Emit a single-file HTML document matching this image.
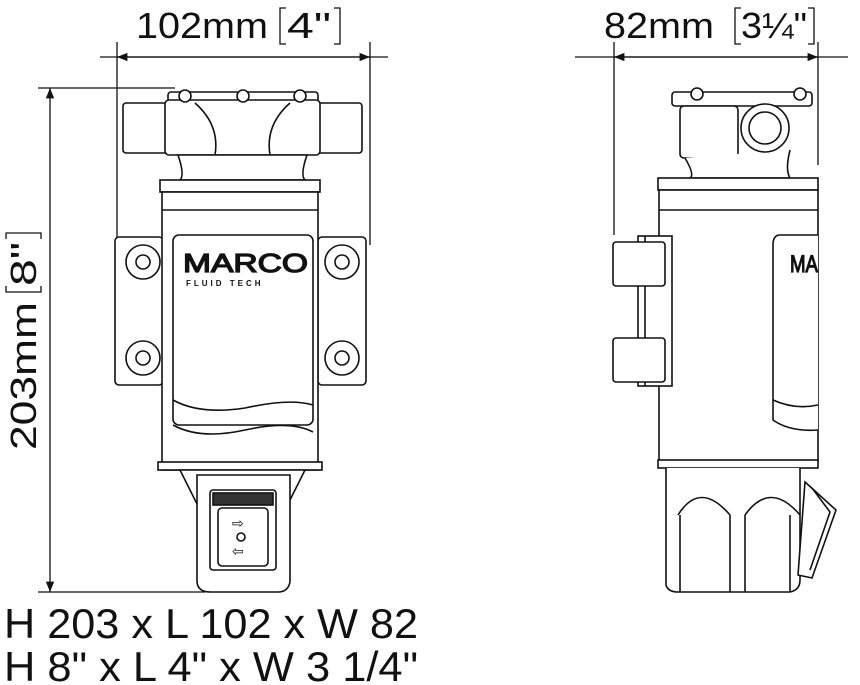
<!DOCTYPE html>
<html><head><style>
body{margin:0;background:#fff;}
svg{display:block;}
text{font-family:"Liberation Sans",sans-serif;fill:#111;}
</style></head><body>
<svg width="860" height="685" viewBox="0 0 860 685" xmlns="http://www.w3.org/2000/svg">
<defs><marker id="a" viewBox="0 0 10 10" refX="10" refY="5" markerWidth="8" markerHeight="8" orient="auto-start-reverse"><path d="M0,1 L10,5 L0,9 z" fill="#111"/></marker></defs>
<g stroke="#111" fill="none" stroke-width="1.3">
<line x1="117" y1="42" x2="117" y2="245"/><line x1="370" y1="42" x2="370" y2="245"/>
<line x1="100" y1="57" x2="388" y2="57"/>
<line x1="117" y1="57" x2="370" y2="57" marker-start="url(#a)" marker-end="url(#a)"/>
<line x1="614" y1="42" x2="614" y2="235"/><line x1="818" y1="42" x2="818" y2="165"/>
<line x1="575" y1="57" x2="848" y2="57"/>
<line x1="614" y1="57" x2="818" y2="57" marker-start="url(#a)" marker-end="url(#a)"/>
<line x1="38" y1="88" x2="175" y2="88"/><line x1="38" y1="592" x2="205" y2="592"/>
<line x1="50" y1="88" x2="50" y2="592" marker-start="url(#a)" marker-end="url(#a)"/>
<path d="M286 8 L280 8 L280 44 L286 44 M334 8 L340 8 L340 44 L334 44"/>
<path d="M741 8 L735 8 L735 44 L741 44 M808 8 L814 8 L814 44 L808 44"/>
</g>
<text x="136" y="38" font-size="36" textLength="132" lengthAdjust="spacingAndGlyphs">102mm</text>
<text x="287" y="38" font-size="36" textLength="44" lengthAdjust="spacingAndGlyphs">4"</text>
<text x="604" y="38" font-size="36" textLength="110" lengthAdjust="spacingAndGlyphs">82mm</text>
<text x="741" y="38" font-size="36" textLength="66" lengthAdjust="spacingAndGlyphs">3¼"</text>
<g transform="translate(36,450) rotate(-90)">
<text x="0" y="0" font-size="36" textLength="148" lengthAdjust="spacingAndGlyphs">203mm</text>
<text x="164" y="0" font-size="36" textLength="44" lengthAdjust="spacingAndGlyphs">8"</text>
<path d="M164 -30 L158 -30 L158 5 L164 5 M211 -30 L217 -30 L217 5 L211 5" fill="none" stroke="#111" stroke-width="1.3"/>
</g>
<text x="4" y="638" font-size="42" textLength="414" lengthAdjust="spacingAndGlyphs">H 203 x L 102 x W 82</text>
<text x="4" y="681" font-size="42" textLength="414" lengthAdjust="spacingAndGlyphs">H 8" x L 4" x W 3 1/4"</text>

<!-- FRONT VIEW -->
<g stroke="#111" fill="#fff" stroke-width="1.6">
<rect x="115" y="237" width="48" height="148" rx="4"/>
<rect x="318" y="237" width="48" height="148" rx="4"/>
<rect x="123" y="103" width="45" height="50" rx="3"/>
<rect x="317" y="103" width="45" height="50" rx="3"/>
<rect x="168" y="92" width="150" height="10" rx="3"/>
<rect x="165" y="100" width="155" height="55" rx="4"/>
<path d="M178 155 Q185 175 180 180 L305 180 Q300 175 307 155 Z"/>
<rect x="160" y="180" width="160" height="12"/>
<rect x="162" y="192" width="156" height="278"/>
<line x1="162" y1="210" x2="318" y2="210"/>
<rect x="173" y="235" width="140" height="190" rx="6"/>
<path d="M173 400 Q200 415 245 408 Q290 398 313 405" fill="none"/>
<path d="M173 425 Q200 440 245 430 Q290 420 313 432" fill="none"/>
<circle cx="143" cy="262" r="17"/><circle cx="143" cy="262" r="7"/>
<circle cx="143" cy="358" r="17"/><circle cx="143" cy="358" r="7"/>
<circle cx="342" cy="262" r="17"/><circle cx="342" cy="262" r="7"/>
<circle cx="342" cy="358" r="17"/><circle cx="342" cy="358" r="7"/>
<rect x="158" y="462" width="164" height="8"/>
<path d="M180 470 L200 510 L285 510 L305 470 Z"/>
<path d="M197 475 L290 475 L290 582 Q288 592 278 592 L210 592 Q198 592 197 582 Z"/>
<rect x="210" y="490" width="66" height="80" rx="3"/>
<rect x="213" y="493" width="60" height="12" fill="#333"/>
<rect x="218" y="508" width="50" height="58" rx="4"/>
<circle cx="241" cy="537" r="4"/>
<circle cx="185" cy="96" r="6"/><circle cx="243" cy="96" r="6"/><circle cx="300" cy="96" r="6"/>
<path d="M195 103 Q220 125 215 155 M290 103 Q265 125 270 155" fill="none"/>
</g>
<text x="183" y="272" font-size="26" fill="#fff" stroke="#111" stroke-width="1.3" textLength="125" lengthAdjust="spacingAndGlyphs">MARCO</text>
<text x="186" y="286" font-size="8" font-weight="bold" letter-spacing="3">FLUID TECH</text>
<text x="232" y="528" font-size="14">⇨</text>
<text x="232" y="556" font-size="14">⇦</text>

<!-- SIDE VIEW -->
<g stroke="#111" fill="#fff" stroke-width="1.6">
<rect x="672" y="92" width="140" height="14" rx="3"/>
<circle cx="697" cy="94" r="6"/><circle cx="800" cy="94" r="6"/>
<rect x="680" y="106" width="58" height="52" rx="4"/>
<path d="M685 158 Q695 175 690 178 L790 178 Q785 170 790 150"/>
<circle cx="765" cy="128" r="24"/><circle cx="765" cy="128" r="16"/>
<rect x="658" y="178" width="160" height="12"/>
<rect x="659" y="190" width="159" height="272"/>
<line x1="659" y1="210" x2="818" y2="210"/>
<path d="M818 235 L780 235 Q773 235 773 245 L773 420 Q790 432 818 430"/>
<path d="M773 400 Q795 410 818 405" fill="none"/>
<rect x="638" y="236" width="34" height="150"/>
<line x1="645" y1="236" x2="645" y2="386"/>
<rect x="613" y="242" width="52" height="44" rx="3"/>
<rect x="613" y="338" width="52" height="44" rx="3"/>
<rect x="658" y="460" width="160" height="8"/>
<path d="M666 468 L666 585 Q668 592 678 592 L790 592 Q800 590 800 580 L800 468"/>
<path d="M678 515 Q700 480 730 515 M745 515 Q770 480 800 515" fill="none"/>
<line x1="680" y1="515" x2="680" y2="592"/><line x1="730" y1="515" x2="730" y2="592"/>
<line x1="745" y1="515" x2="745" y2="592"/><line x1="790" y1="515" x2="790" y2="592"/>
<path d="M805 482 L836 510 L812 578 L798 575 Z"/>
<path d="M812 488 L830 512 L810 570" fill="none"/>
</g>
<text x="790" y="272" font-size="24" fill="#fff" stroke="#111" stroke-width="1.2" textLength="28" lengthAdjust="spacingAndGlyphs">MA</text>
</svg>
</body></html>
